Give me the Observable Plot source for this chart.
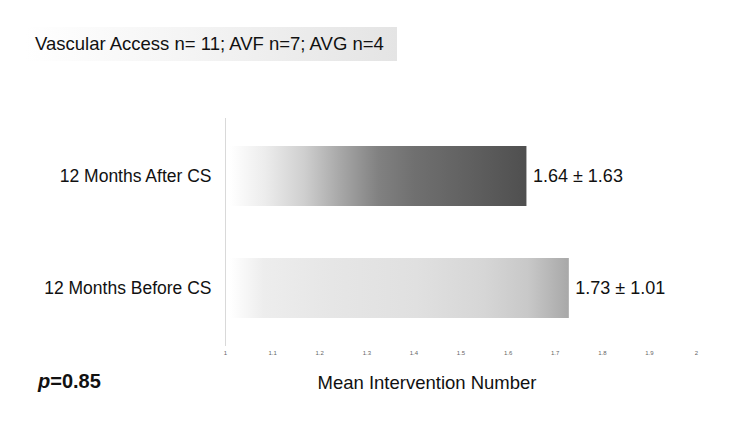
<!DOCTYPE html>
<html>
<head>
<meta charset="utf-8">
<script src="https://cdn.jsdelivr.net/npm/d3@7"></script>
<script src="https://cdn.jsdelivr.net/npm/@observablehq/plot@0.6"></script>
<style>
  html, body { margin: 0; padding: 0; background: #fff; }
  #wrap { position: relative; width: 750px; height: 422px; font-family: "Liberation Sans", Arial, sans-serif; color: #111; }
  #chart { position: absolute; left: 0; top: 0; }
  .title { position: absolute; left: 25px; top: 27px; width: 372px; height: 34px; line-height: 34px;
           background: linear-gradient(to right, #ffffff 0%, #f4f4f4 45%, #e4e4e4 100%);
           font-size: 18.5px; padding-left: 10px; box-sizing: border-box; white-space: nowrap; }
  .pval { position: absolute; left: 38px; top: 370px; font-size: 20px; font-weight: bold; }
  .xlab { position: absolute; left: 277px; width: 300px; top: 372px; text-align: center; font-size: 18.5px; }
</style>
</head>
<body>
<svg width="0" height="0" style="position:absolute">
  <defs>
    <linearGradient id="gAfter" x1="0" x2="1" y1="0" y2="0">
      <stop offset="0" stop-color="#ffffff"/>
      <stop offset="0.12" stop-color="#ececec"/>
      <stop offset="0.25" stop-color="#cfcfcf"/>
      <stop offset="0.37" stop-color="#a8a8a8"/>
      <stop offset="0.5" stop-color="#818181"/>
      <stop offset="0.62" stop-color="#707070"/>
      <stop offset="0.8" stop-color="#616161"/>
      <stop offset="1" stop-color="#4f4f4f"/>
    </linearGradient>
    <linearGradient id="gBefore" x1="0" x2="1" y1="0" y2="0">
      <stop offset="0" stop-color="#ffffff"/>
      <stop offset="0.1" stop-color="#ededed"/>
      <stop offset="0.3" stop-color="#e6e6e6"/>
      <stop offset="0.55" stop-color="#e0e0e0"/>
      <stop offset="0.75" stop-color="#d6d6d6"/>
      <stop offset="0.88" stop-color="#c8c8c8"/>
      <stop offset="1" stop-color="#a8a8a8"/>
    </linearGradient>
  </defs>
</svg>
<div id="wrap">
  <div id="chart"></div>
  <div class="title">Vascular Access n= 11; AVF n=7; AVG n=4</div>
  <div class="pval"><i>p</i>=0.85</div>
  <div class="xlab">Mean Intervention Number</div>
</div>
<script>
const periods = ["12 Months After CS", "12 Months Before CS"];
const means = [1.64, 1.73];
const sds = [1.63, 1.01];
const fills = ["url(#gAfter)", "url(#gBefore)"];
const xTicks = [1, 1.1, 1.2, 1.3, 1.4, 1.5, 1.6, 1.7, 1.8, 1.9, 2];

const data = periods.map((p, i) => ({
  period: p, mean: means[i], sd: sds[i], fill: fills[i],
  label: `${means[i].toFixed(2)} ± ${sds[i].toFixed(2)}`
}));

const chart = Plot.plot({
  width: 750,
  height: 422,
  marginLeft: 225,
  marginRight: 54,
  marginTop: 118,
  marginBottom: 76,
  style: { fontFamily: "'Liberation Sans', Arial, sans-serif", background: "transparent" },
  x: { domain: [1, 2], ticks: xTicks, tickFormat: d => String(d), tickSize: 0, tickPadding: 4, label: null },
  y: { domain: periods, paddingInner: 0.46, paddingOuter: 0.239, tickSize: 0, tickPadding: 14, label: null },
  color: { type: "identity" },
  marks: [
    Plot.ruleX([1], { stroke: "#d9d9d9", strokeWidth: 1 }),
    Plot.barX(data, { y: "period", x1: 1, x2: "mean", fill: "fill", insetLeft: 5 }),
    Plot.text(data, { y: "period", x: "mean", text: "label", textAnchor: "start", dx: 6,
                      fontSize: 18, fill: "#111" })
  ]
});

chart.querySelectorAll('g[aria-label="x-axis tick label"]').forEach(g => {
  g.setAttribute("font-size", 6);
  g.style.fill = "#666";
});
chart.querySelectorAll('g[aria-label="y-axis tick label"]').forEach(g => {
  g.setAttribute("font-size", 17.5);
  g.style.fill = "#111";
});
document.getElementById("chart").appendChild(chart);
</script>
</body>
</html>
